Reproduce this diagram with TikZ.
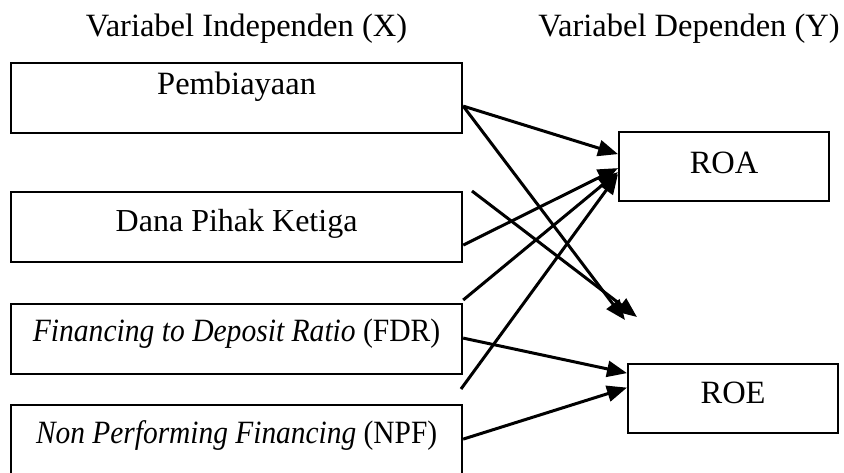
\documentclass[tikz,border=0pt]{standalone}
\usepackage{fontspec}
\setmainfont{Liberation Serif}
\usetikzlibrary{arrows.meta}
\begin{document}
\begin{tikzpicture}[x=1pt,y=-1pt,
  box/.style={draw=black,line width=2.2pt,inner sep=0pt,minimum width=451pt,minimum height=70pt,anchor=north west,align=center},
  rbox/.style={draw=black,line width=2.2pt,inner sep=0pt,minimum width=210pt,minimum height=69pt,anchor=north west,align=center},
  title/.style={inner sep=0pt,anchor=base},
  arr/.style={line width=3pt,-{Triangle[length=20pt,width=16pt]}},
  ln/.style={line width=3pt}]
\useasboundingbox (0,0) rectangle (844,472);
\fontsize{32.5pt}{38pt}\selectfont
\node[title] (tx) at (246.5,36) {Variabel Independen (X)};
\node[title] (ty) at (689,36) {Variabel Dependen (Y)};
\node[box,text height=31pt,text depth=39pt] (pemb) at (10,62) {Pembiayaan};
\node[box,text height=39pt,text depth=31pt] (dpk) at (10,191) {\fontsize{32pt}{38pt}\selectfont Dana Pihak Ketiga};
\node[box,text height=37pt,text depth=33pt] (fdr) at (10,303) {\scalebox{0.91}[1]{\textit{Financing to Deposit Ratio} (FDR)}};
\node[box,text height=38pt,text depth=32pt] (npf) at (10,404) {\scalebox{0.905}[1]{\textit{Non Performing Financing} (NPF)}};
\node[rbox,text height=41pt,text depth=28pt] (roa) at (618,131) {ROA};
\node[rbox,text height=39pt,text depth=30pt] (roe) at (627,363) {ROE};
\coordinate (s1) at (472,191);
\coordinate (e1) at (637,317);
\coordinate (e2) at (625,320);
\coordinate (s2) at (461,389);
\draw[arr] ([yshift=-8pt]pemb.east) -- ([yshift=12.5pt]roa.west);
\draw[arr] ([yshift=-8pt]pemb.east) -- (e2);
\draw[arr] (s1) -- (e1);
\draw[arr] ([yshift=-18pt]dpk.east) -- ([yshift=-1.5pt]roa.west);
\draw[arr] ([yshift=3pt]fdr.north east) -- ([yshift=-5.5pt]roa.west);
\draw[arr] (s2) -- ([yshift=-7.5pt]roa.west);
\draw[arr] ([yshift=1pt]fdr.east) -- ([yshift=25.5pt]roe.west);
\draw[arr] ([yshift=1pt]npf.east) -- ([yshift=11pt]roe.west);
\end{tikzpicture}
\end{document}
